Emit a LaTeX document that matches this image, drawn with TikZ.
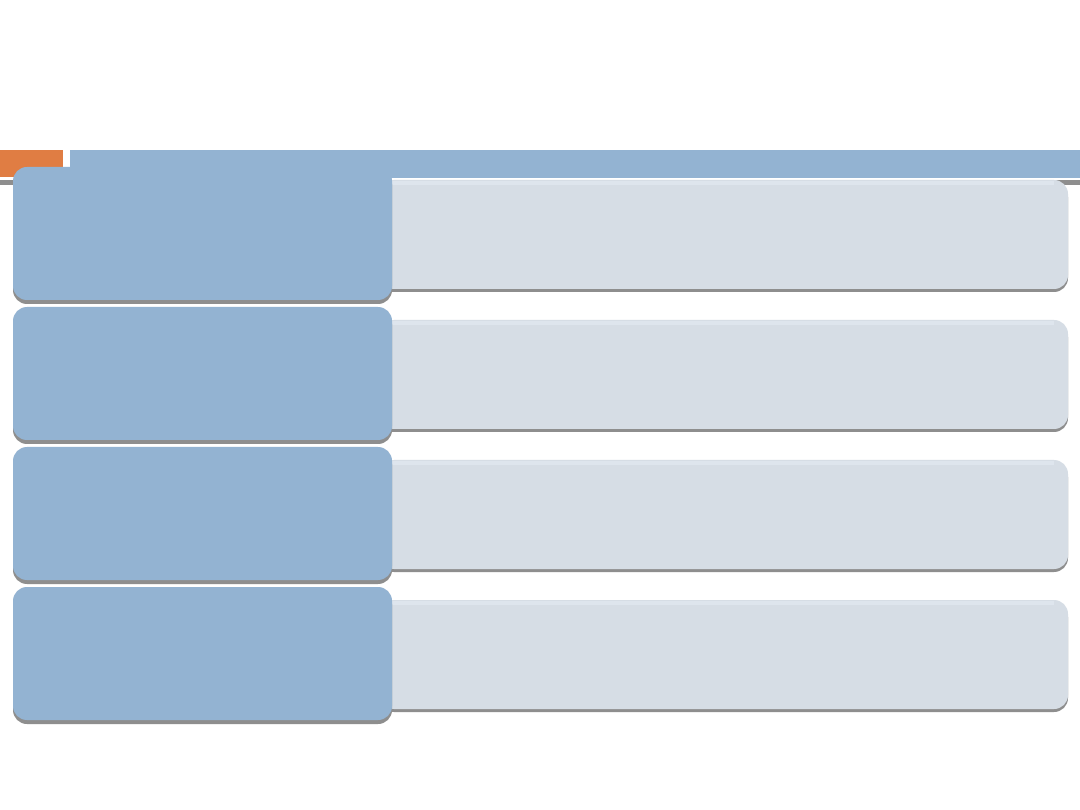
\documentclass[tikz,border=0pt]{standalone}
\definecolor{barblue}{HTML}{93B3D2}
\definecolor{lightbox}{HTML}{D6DDE5}
\definecolor{lighttop}{HTML}{DEE5ED}
\definecolor{shadowgray}{HTML}{8E8E8E}
\definecolor{accent}{HTML}{E07D43}
\begin{document}
\begin{tikzpicture}[x=1pt,y=-1pt,
  leftbox/.style={fill=barblue, rounded corners=14pt},
  rightbox/.style={fill=lightbox, rounded corners=14pt},
  shade/.style={fill=shadowgray, rounded corners=14pt}]
\useasboundingbox[fill=white] (0,0) rectangle (1080,810);
% top bar
\fill[shadowgray] (0,180) rectangle (1080,185);
\fill[white] (0,178) rectangle (1080,180);
\fill[accent] (0,150) rectangle (63,177);
\fill[barblue] (70,150) rectangle (1080,178);
% rows
\foreach \i/\t in {1/167,2/307,3/447,4/587}{
  % right box
  \fill[shade] (380,\t+16) rectangle (1068,\t+125);
  \fill[rightbox] (380,\t+13) rectangle (1068,\t+122);
  \fill[lighttop] (392,\t+14) rectangle (1054,\t+18);
  \node[inner sep=0pt, minimum width=0pt] (r\i) at (724,\t+68) {};
  % left box
  \fill[shade] (13,\t+3) rectangle (392,\t+137);
  \fill[leftbox] (13,\t) rectangle (392,\t+133);
  \node[inner sep=0pt] (l\i) at (202,\t+66) {};
}
\end{tikzpicture}
\end{document}
